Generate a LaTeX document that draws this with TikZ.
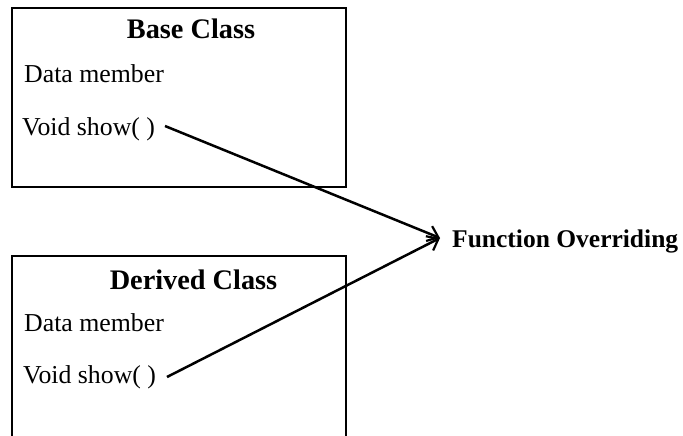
\documentclass[tikz,border=0pt]{standalone}
\usepackage{fontspec}
\setmainfont{Liberation Serif}
\usetikzlibrary{arrows.meta}
\begin{document}
\begin{tikzpicture}[x=1pt,y=-1pt,
  box/.style={draw, line width=2.2pt},
  title/.style={font=\fontsize{28.3}{31}\selectfont\bfseries, anchor=base, inner sep=0pt},
  member/.style={font=\fontsize{25.8}{28}\selectfont, anchor=base west, inner sep=0pt},
  result/.style={font=\fontsize{25.5}{28}\selectfont\bfseries, anchor=base west, inner sep=0pt},
  link/.style={line width=2.5pt, -{Straight Barb[length=10pt,width=16pt,line width=2.2pt]}}]
\useasboundingbox (0,0) rectangle (683,436);

% class boxes (the lower one runs past the bottom edge)
\begin{scope}
  \clip (0,0) rectangle (683,436);
  \draw[box] (12,8) rectangle (346,187);
  \draw[box] (12,256) rectangle (346,470);
\end{scope}

% base class
\node[title]  (base)  at (191,39)  {Base Class};
\node[member] (bdata) at (24,82)   {Data member};
\node[member] (bshow) at (22,135)  {Void show( )};

% derived class
\node[title]  (derived) at (193.5,289) {Derived Class};
\node[member] (ddata)   at (24,331)    {Data member};
\node[member] (dshow)   at (23,383)    {Void show( )};

% result label
\node[result] (over) at (452,247) {Function Overriding};

% connectors
\coordinate (bstart) at (165,126);
\coordinate (dstart) at (167,377);
\coordinate (tip) at (440,238);
\draw[link] (bstart) -- (tip);
\draw[link] (dstart) -- (tip);
\end{tikzpicture}
\end{document}
